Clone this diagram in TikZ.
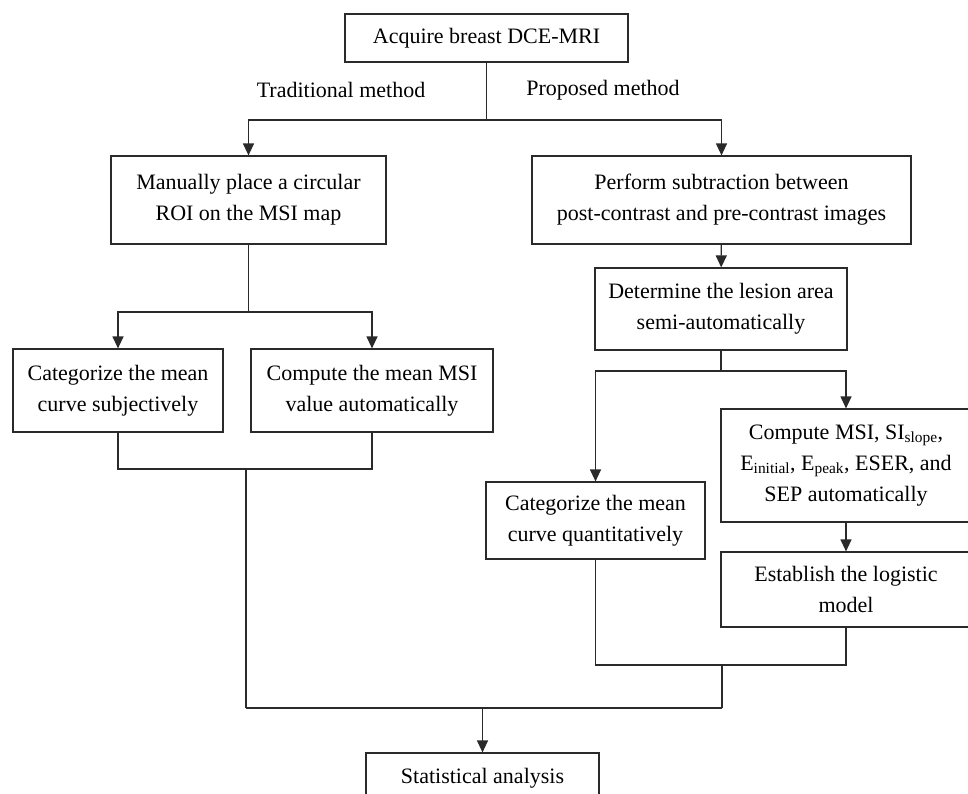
\documentclass[tikz,border=0pt]{standalone}
\usepackage{fontspec}
\setmainfont{Liberation Serif}
\usetikzlibrary{arrows.meta}
\definecolor{ln}{HTML}{2a2a2a}
\tikzset{
  box/.style={draw=ln, line width=1.2pt, inner sep=0pt, align=center, text=black,
    font=\fontsize{22}{31}\selectfont},
  lbl/.style={inner sep=0pt, font=\fontsize{22}{31}\selectfont},
  conn/.style={draw=ln, line width=1.2pt},
  arr/.style={conn, -{Triangle[length=12pt,width=11pt]}},
}
\begin{document}
\begin{tikzpicture}[x=1pt,y=-1pt]
\useasboundingbox (0,0) rectangle (968,793);
\clip (0,0) rectangle (968,793);
\fill[white] (0,0) rectangle (968,793);
% boxes
\node[box, minimum width=283pt, minimum height=48pt] (top) at (486.5,38) {Acquire breast DCE-MRI};
\node[box, minimum width=275pt, minimum height=88pt] (manual) at (248.5,200) {Manually place a circular\\ROI on the MSI map};
\node[box, minimum width=379pt, minimum height=88pt] (perform) at (721.5,200) {Perform subtraction between\\post-contrast and pre-contrast images};
\node[box, minimum width=252pt, minimum height=82pt] (determine) at (721,309) {Determine the lesion area\\semi-automatically};
\node[box, minimum width=210pt, minimum height=83pt] (catsub) at (118,390.5) {Categorize the mean\\curve subjectively};
\node[box, minimum width=242pt, minimum height=83pt] (compmean) at (372,390.5) {Compute the mean MSI\\value automatically};
\node[box, minimum width=250pt, minimum height=113pt] (compute) at (846,465.5) {Compute MSI, SI\textsubscript{slope},\\E\textsubscript{initial}, E\textsubscript{peak}, ESER, and\\SEP automatically};
\node[box, minimum width=219pt, minimum height=77pt] (catquant) at (595.5,520.5) {Categorize the mean\\curve quantitatively};
\node[box, minimum width=250pt, minimum height=75pt] (establish) at (846,589.5) {Establish the logistic\\model};
\node[box, minimum width=233pt, minimum height=50pt] (stat) at (482.5,778) {Statistical analysis};
% labels
\node[lbl] (trad) at (341,90) {Traditional method};
\node[lbl] (prop) at (603,90) {Proposed method};
% coordinates
\coordinate (b1) at (486.5,120);
\coordinate (b2) at (248.5,312);
\coordinate (b3) at (721,371);
\coordinate (m1) at (246,469);
\coordinate (m2) at (722,665);
\coordinate (m1d) at (246,708);
\coordinate (m2d) at (722,708);
\coordinate (m3) at (482.5,708);
% connectors
\draw[conn] (top) -- (b1);
\draw[arr] (b1) -| (manual);
\draw[arr] (b1) -| (perform);
\draw[conn] (manual) -- (b2);
\draw[arr] (b2) -| (catsub);
\draw[arr] (b2) -| (compmean);
\draw[arr] (perform) -- (determine);
\draw[conn] (determine) -- (b3);
\draw[arr] (b3) -| (catquant);
\draw[arr] (b3) -| (compute);
\draw[arr] (compute) -- (establish);
\draw[conn] (catsub) |- (m1) -| (compmean);
\draw[conn] (m1) -- (m1d);
\draw[conn] (catquant) |- (m2) -| (establish);
\draw[conn] (m2) -- (m2d);
\draw[conn] (m1d) -- (m2d);
\draw[arr] (m3) -- (stat);
\end{tikzpicture}
\end{document}
